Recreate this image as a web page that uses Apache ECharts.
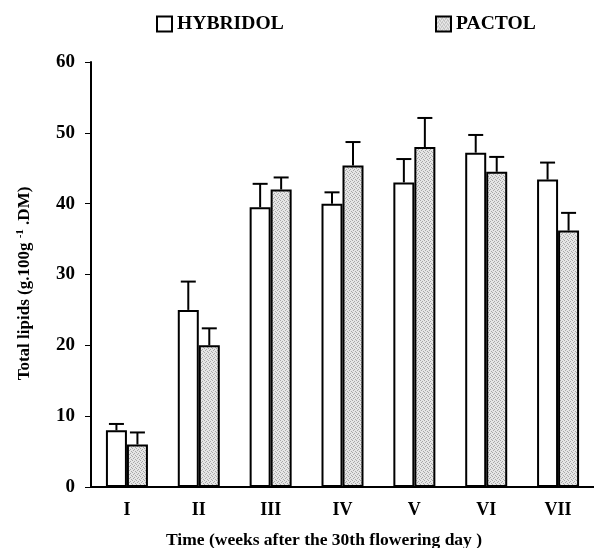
<!DOCTYPE html>
<html>
<head>
<meta charset="utf-8">
<script src="https://cdn.jsdelivr.net/npm/echarts@6/dist/echarts.min.js"></script>
<style>
html,body{margin:0;padding:0;background:#fff;}
#chart{width:594px;height:548px;}
</style>
</head>
<body>
<div id="chart"></div>
<script>
const weeks = ['I', 'II', 'III', 'IV', 'V', 'VI', 'VII']
const hybridol = [8, 25, 39.5, 40, 43, 47.2, 43.4]
const hybridolErr = [0.9, 4, 3.3, 1.6, 3.3, 2.5, 2.4]
const pactol = [6, 20, 42, 45.4, 48, 44.5, 36.2]
const pactolErr = [1.7, 2.4, 1.7, 3.3, 4.1, 2.1, 2.5]
const yTicks = [0, 10, 20, 30, 40, 50, 60]

const font = 'Liberation Serif'
const barW = 21

// dotted grey fill like the printed pattern
const pat = document.createElement('canvas')
pat.width = 4
pat.height = 4
const pctx = pat.getContext('2d')
pctx.fillStyle = '#e6e6e6'
pctx.fillRect(0, 0, 4, 4)
pctx.fillStyle = '#a8a8a8'
pctx.fillRect(0, 0, 1, 1)
pctx.fillRect(2, 1, 1, 1)
pctx.fillRect(1, 2, 1, 1)
pctx.fillRect(3, 3, 1, 1)
const patFill = { image: pat, repeat: 'repeat' }

function errSeries(vals, errs, shift) {
  return {
    type: 'custom',
    silent: true,
    z: 5,
    data: vals.map((v, i) => [i, v, v + errs[i]]),
    renderItem: function (params, api) {
      const lo = api.coord([api.value(0), api.value(1)])
      const hi = api.coord([api.value(0), api.value(2)])
      const x = lo[0] + shift
      const st = { stroke: '#000', lineWidth: 2 }
      return {
        type: 'group',
        children: [
          { type: 'line', shape: { x1: x, y1: lo[1], x2: x, y2: hi[1] }, style: st },
          { type: 'line', shape: { x1: x - 7.5, y1: hi[1], x2: x + 7.5, y2: hi[1] }, style: st }
        ]
      }
    }
  }
}

const legendText = { fontFamily: font, fontWeight: 'bold', fontSize: 19.6, color: '#000' }

const chart = echarts.init(document.getElementById('chart'))
chart.setOption({
  animation: false,
  backgroundColor: '#fff',
  textStyle: { fontFamily: font },
  legend: [
    {
      data: ['HYBRIDOL'],
      left: 151, top: 9,
      itemWidth: 15, itemHeight: 15,
      icon: 'rect',
      textStyle: legendText
    },
    {
      data: ['PACTOL'],
      left: 430, top: 9,
      itemWidth: 15, itemHeight: 15,
      icon: 'rect',
      textStyle: legendText
    }
  ],
  grid: { left: 91, right: 0, top: 62, bottom: 61 },
  xAxis: {
    type: 'category',
    data: weeks,
    axisLine: { lineStyle: { color: '#000', width: 2 } },
    axisTick: { length: 5, lineStyle: { color: '#000', width: 1 } },
    axisLabel: { fontFamily: font, fontWeight: 'bold', fontSize: 18, color: '#000', margin: 14 }
  },
  yAxis: {
    type: 'value',
    min: 0, max: 60, interval: 10,
    splitLine: { show: false },
    axisLine: { show: true, lineStyle: { color: '#000', width: 2 } },
    axisTick: { show: true, length: 6, lineStyle: { color: '#000', width: 1 } },
    axisLabel: {
      fontFamily: font, fontWeight: 'bold', fontSize: 19, color: '#000', margin: 16,
      formatter: v => yTicks.includes(v) ? String(v) : ''
    },
    name: '{a|Total lipids (g.100g }{s|-1}{a| .DM)}',
    nameLocation: 'middle',
    nameGap: 57,
    nameTextStyle: {
      padding: [0, 18, 0, 0],
      rich: {
        a: { fontFamily: font, fontWeight: 'bold', fontSize: 17, color: '#000' },
        s: { fontFamily: font, fontWeight: 'bold', fontSize: 11, color: '#000', verticalAlign: 'top', padding: [0, 0, 8, 0] }
      }
    }
  },
  graphic: [{
    type: 'text',
    left: 166, top: 531,
    style: { text: 'Time (weeks after the 30th flowering day )', font: 'bold 17.5px "Liberation Serif"', fill: '#000' }
  }],
  series: [
    {
      name: 'HYBRIDOL', type: 'bar', data: hybridol,
      barWidth: barW, barGap: '0%',
      itemStyle: { color: '#fff', borderColor: '#000', borderWidth: 2 }
    },
    {
      name: 'PACTOL', type: 'bar', data: pactol,
      barWidth: barW, barGap: '0%',
      itemStyle: { color: patFill, borderColor: '#000', borderWidth: 2 }
    },
    errSeries(hybridol, hybridolErr, -barW / 2),
    errSeries(pactol, pactolErr, barW / 2)
  ]
})
</script>
</body>
</html>
